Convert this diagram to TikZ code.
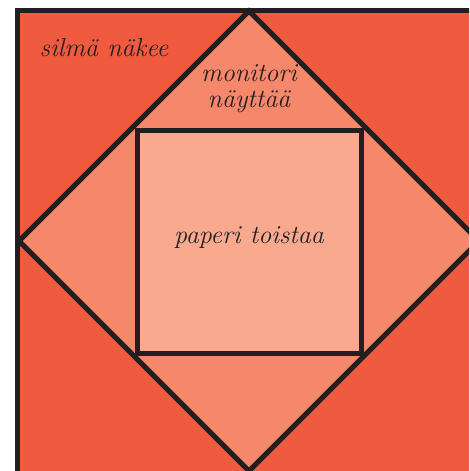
\documentclass[tikz,border=0pt]{standalone}
\usepackage{tikz}
\usetikzlibrary{calc,positioning}

\definecolor{eyered}{HTML}{F05B3F}
\definecolor{monitorred}{HTML}{F5876A}
\definecolor{paperred}{HTML}{F8A98E}
\definecolor{inkline}{HTML}{231F20}

\begin{document}
\begin{tikzpicture}[x=1pt, y=-1pt,
                    frame/.style={draw=inkline, line width=5pt, line join=miter},
                    label/.style={align=center, text=inkline, font=\fontsize{26}{26}\selectfont\itshape},
                ]
                    \useasboundingbox (0,0) rectangle (469,471);
                    \clip (0,0) rectangle (469,471);
                    
                    \coordinate (mid) at (249,241);
                    \draw[frame, fill=eyered] (17.5,10.5) rectangle (540,540);
                    \draw[frame, fill=monitorred] ($(mid)+(0,-230)$) -- ($(mid)+(230,0)$) -- ($(mid)+(0,230)$) -- ($(mid)+(-230,0)$) -- cycle;
                    \draw[frame, fill=paperred] ($(mid)+(-112,-111)$) rectangle ($(mid)+(112,112)$);
                    
                    \node[label] (eye) at (104,48) {silmä näkee};
                    \node[label] (monitor) at (249,89) {monitori\\näyttää};
                    \node[label] (paper) at ($(mid)+(0,-3)$) {paperi toistaa};
                \end{tikzpicture}
\end{document}
